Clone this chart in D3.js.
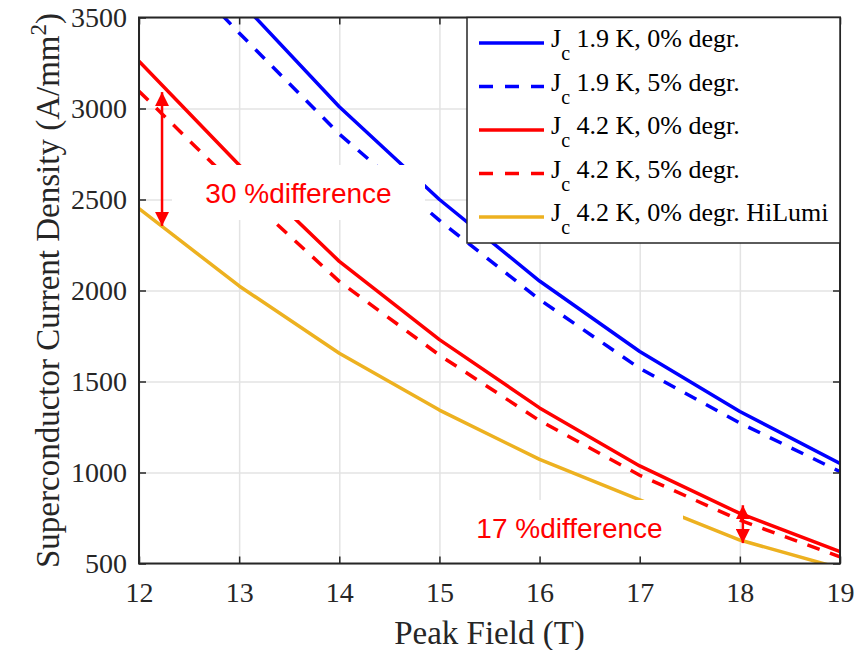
<!DOCTYPE html>
<html>
<head>
<meta charset="utf-8">
<script src="https://cdn.jsdelivr.net/npm/d3@7"></script>
<style>
  body { margin: 0; background: #fff; }
  svg { display: block; }
  .tick text { font-family: "Liberation Serif", "Times New Roman", serif; }
</style>
</head>
<body>
<svg id="chart"></svg>
<script>
// Chart data
const peak_field = [12, 13, 14, 15, 16, 17, 18, 19];
const jc_19k_0 = [4200, 3595, 3010, 2500, 2052, 1665, 1335, 1050];
const jc_19k_5 = [3990, 3415, 2860, 2385, 1950, 1572, 1272, 1005];
const jc_42k_0 = [3260, 2690, 2160, 1730, 1355, 1036, 775, 565];
const jc_42k_5 = [3095, 2555, 2050, 1645, 1285, 985, 738, 537];
const jc_42k_hilumi = [2450, 2025, 1655, 1343, 1072, 849, 629, 474];

const x_ticks = [12, 13, 14, 15, 16, 17, 18, 19];
const y_ticks = [500, 1000, 1500, 2000, 2500, 3000, 3500];

const series_names = ["1.9 K, 0% degr.", "1.9 K, 5% degr.", "4.2 K, 0% degr.", "4.2 K, 5% degr.", "4.2 K, 0% degr. HiLumi"];

// Difference annotations: arrow at field x between two current densities
const diff_labels = ["30 %difference", "17 %difference"];
const diff_arrow_x = [12.23, 18.03];
const diff_arrow_lo = [2355, 612];
const diff_arrow_hi = [3090, 820];

// Layout
const width = 859, height = 650;
const margins = { top: 17.5, right: 19, bottom: 86.5, left: 139 };
const chart_width = width - margins.left - margins.right;
const chart_height = height - margins.top - margins.bottom;

const series = [
    { values: jc_19k_0, color: "#0000ff", dash: null },
    { values: jc_19k_5, color: "#0000ff", dash: "13,11" },
    { values: jc_42k_0, color: "#ff0000", dash: null },
    { values: jc_42k_5, color: "#ff0000", dash: "13,11" },
    { values: jc_42k_hilumi, color: "#edb120", dash: null }
];

const x_scale = d3.scaleLinear().domain([12, 19]).range([0, chart_width]);
const y_scale = d3.scaleLinear().domain([500, 3500]).range([chart_height, 0]);

const svg = d3.select("#chart")
    .attr("width", width)
    .attr("height", height);

const g = svg.append("g")
    .attr("transform", `translate(${margins.left}, ${margins.top})`);

g.append("clipPath").attr("id", "plot-clip")
    .append("rect")
    .attr("width", chart_width)
    .attr("height", chart_height);

// Grid lines
g.append("g")
    .attr("transform", `translate(0, ${chart_height})`)
    .call(d3.axisBottom(x_scale).tickValues(x_ticks).tickSize(-chart_height).tickFormat(""))
    .call(a => a.select(".domain").remove())
    .selectAll("line").attr("stroke", "#e3e3e3").attr("stroke-width", 1.5);
g.append("g")
    .call(d3.axisLeft(y_scale).tickValues(y_ticks).tickSize(-chart_width).tickFormat(""))
    .call(a => a.select(".domain").remove())
    .selectAll("line").attr("stroke", "#e3e3e3").attr("stroke-width", 1.5);

// Data lines
const line = d3.line()
    .x((d, i) => x_scale(peak_field[i]))
    .y(d => y_scale(d));

g.append("g")
    .attr("clip-path", "url(#plot-clip)")
    .selectAll("path")
    .data(series)
    .join("path")
    .attr("d", d => line(d.values))
    .attr("fill", "none")
    .attr("stroke", d => d.color)
    .attr("stroke-width", 3.5)
    .attr("stroke-linejoin", "round")
    .attr("stroke-dasharray", d => d.dash);

// Text boxes with white backgrounds
const box_specs = [
    { x: 172, y: 165, w: 253, h: 55 },
    { x: 456, y: 500, w: 227, h: 56 }
];
box_specs.forEach((b, i) => {
    svg.append("rect")
        .attr("x", b.x).attr("y", b.y)
        .attr("width", b.w).attr("height", b.h)
        .attr("fill", "#fff");
    svg.append("text")
        .attr("x", b.x + b.w / 2)
        .attr("y", b.y + b.h / 2)
        .attr("dy", "0.36em")
        .attr("text-anchor", "middle")
        .attr("font-family", "Arial, 'Liberation Sans', sans-serif")
        .attr("font-size", 28)
        .attr("fill", "#ff0000")
        .text(diff_labels[i]);
});

// Double-headed arrows
const defs = svg.append("defs");
defs.append("marker")
    .attr("id", "arrow-head")
    .attr("viewBox", "0 0 10 10")
    .attr("refX", 10).attr("refY", 5)
    .attr("markerUnits", "userSpaceOnUse")
    .attr("markerWidth", 14).attr("markerHeight", 14)
    .attr("orient", "auto-start-reverse")
    .append("path")
    .attr("d", "M0,0 L10,5 L0,10 Z")
    .attr("fill", "#ff0000");

diff_arrow_x.forEach((xv, i) => {
    g.append("line")
        .attr("x1", x_scale(xv)).attr("x2", x_scale(xv))
        .attr("y1", y_scale(diff_arrow_lo[i]))
        .attr("y2", y_scale(diff_arrow_hi[i]))
        .attr("stroke", "#ff0000")
        .attr("stroke-width", 2.5)
        .attr("marker-start", "url(#arrow-head)")
        .attr("marker-end", "url(#arrow-head)");
});

// Axes with inward ticks on all four sides
const serif_font = "Liberation Serif, Times New Roman, serif";
const style_axis = a => {
    a.select(".domain").remove();
    a.selectAll("line").attr("stroke", "#262626").attr("stroke-width", 1.5);
    a.selectAll("text")
        .attr("fill", "#262626")
        .attr("font-family", serif_font)
        .attr("font-size", 28);
};
const fmt = d3.format("d");

g.append("g")
    .attr("transform", `translate(0, ${chart_height})`)
    .call(d3.axisBottom(x_scale).tickValues(x_ticks).tickFormat(fmt).tickSizeInner(-7).tickSizeOuter(0).tickPadding(19))
    .call(style_axis);
g.append("g")
    .call(d3.axisLeft(y_scale).tickValues(y_ticks).tickFormat(fmt).tickSizeInner(-7).tickSizeOuter(0).tickPadding(12))
    .call(style_axis);
g.append("g")
    .call(d3.axisTop(x_scale).tickValues(x_ticks).tickSizeInner(-7).tickSizeOuter(0).tickFormat(""))
    .call(style_axis);
g.append("g")
    .attr("transform", `translate(${chart_width}, 0)`)
    .call(d3.axisRight(y_scale).tickValues(y_ticks).tickSizeInner(-7).tickSizeOuter(0).tickFormat(""))
    .call(style_axis);

g.append("rect")
    .attr("width", chart_width)
    .attr("height", chart_height)
    .attr("fill", "none")
    .attr("stroke", "#262626")
    .attr("stroke-width", 2);

// Axis labels
svg.append("text")
    .attr("x", margins.left + chart_width / 2)
    .attr("y", 644)
    .attr("text-anchor", "middle")
    .attr("fill", "#262626")
    .attr("font-family", serif_font)
    .attr("font-size", 33)
    .text("Peak Field (T)");

const y_label = svg.append("text")
    .attr("transform", `translate(59, ${margins.top + chart_height / 2}) rotate(-90)`)
    .attr("text-anchor", "middle")
    .attr("fill", "#262626")
    .attr("font-family", serif_font)
    .attr("font-size", 33);
y_label.append("tspan").text("Superconductor Current Density (A/mm");
y_label.append("tspan").attr("dy", -13).attr("font-size", 23).text("2");
y_label.append("tspan").attr("dy", 13).text(")");

// Legend
const legend = svg.append("g").attr("transform", "translate(467, 17.5)");
legend.append("rect")
    .attr("width", 373)
    .attr("height", 225.5)
    .attr("fill", "#fff")
    .attr("stroke", "#262626")
    .attr("stroke-width", 1.5);

const legend_rows = legend.selectAll("g.row")
    .data(series)
    .join("g")
    .attr("class", "row")
    .attr("transform", (d, i) => `translate(0, ${25.5 + i * 43.5})`);

legend_rows.append("line")
    .attr("x1", 12).attr("x2", 77)
    .attr("stroke", d => d.color)
    .attr("stroke-width", 3.5)
    .attr("stroke-dasharray", d => d.dash ? "14,12" : null);

const legend_text = legend_rows.append("text")
    .attr("x", 84)
    .attr("y", 4)
    .attr("fill", "#000")
    .attr("font-family", serif_font)
    .attr("font-size", 26);
legend_text.append("tspan").text("J");
legend_text.append("tspan").attr("dy", 13).attr("font-size", 20).text("c");
legend_text.append("tspan").attr("dy", -13).text((d, i) => " " + series_names[i]);
</script>
</body>
</html>
